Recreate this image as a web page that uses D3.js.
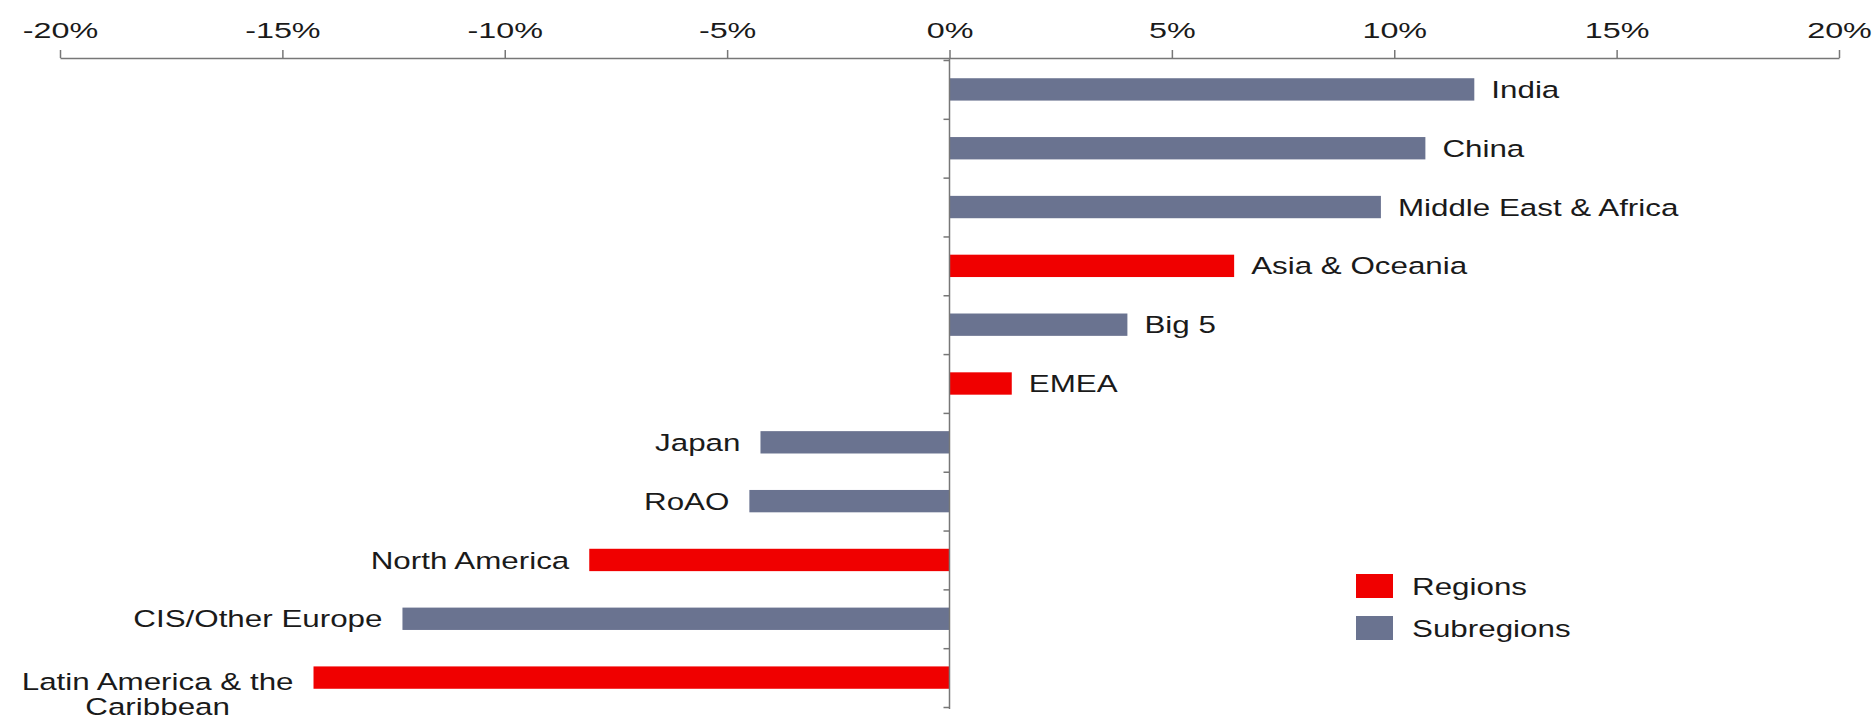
<!DOCTYPE html>
<html>
<head>
<meta charset="utf-8">
<script src="https://cdn.jsdelivr.net/npm/d3@7"></script>
<style>
  body { margin: 0; background: #fff; }
  svg text { font-family: "Liberation Sans", Arial, sans-serif; fill: #1a1a1a; }
</style>
</head>
<body>
<svg id="chart" width="1875" height="721"></svg>
<script>
// growth by region, top to bottom as in the picture
var categories = ["India", "China", "Middle East & Africa", "Asia & Oceania", "Big 5", "EMEA",
                  "Japan", "RoAO", "North America", "CIS/Other Europe", "Latin America & the Caribbean"];
var growth = [11.8, 10.7, 9.7, 6.4, 4.0, 1.4, -4.25, -4.5, -8.1, -12.3, -14.3];
var groups = ["Subregions", "Subregions", "Subregions", "Regions", "Subregions", "Regions",
              "Subregions", "Subregions", "Regions", "Subregions", "Regions"];
var xTicks = [-20, -15, -10, -5, 0, 5, 10, 15, 20];
var legendItems = ["Regions", "Subregions"];

// labels that wrap onto two lines
var wrapped = { "Latin America & the Caribbean": ["Latin America & the", "Caribbean"] };

var colors = { "Regions": "#f00000", "Subregions": "#6a7390" };
// text in the original is pulled wide, tick labels even more
var stretch = 1.28;
var tickStretch = 1.47;

var svg = d3.select("#chart");

var x = d3.scaleLinear().domain([-20, 20]).range([60, 1839]);
var y = d3.scaleBand().domain(categories).range([60, 707]).paddingInner(0.62).paddingOuter(0.31);
var yEdge = d3.scaleLinear().domain([0, categories.length]).range([60, 707]);

// top axis
var xAxis = svg.append("g")
    .attr("transform", "translate(0,58)")
    .call(d3.axisTop(x).tickValues(xTicks).tickSize(8).tickSizeOuter(0).tickPadding(12)
        .tickFormat(function(d){ return d + "%"; }));
xAxis.select(".domain").attr("stroke", "#777").attr("stroke-width", 1.5);
xAxis.selectAll(".tick line").attr("stroke", "#777").attr("stroke-width", 1.5);
xAxis.selectAll(".tick text")
    .style("font-size", "22px")
    .attr("transform", "scale(" + tickStretch + ",1)")
    .attr("fill", "#1a1a1a");

// bars
svg.selectAll("rect.bar")
    .data(categories)
    .enter().append("rect")
    .attr("class", "bar")
    .attr("x", function(d, i){ return x(Math.min(0, growth[i])); })
    .attr("width", function(d, i){ return Math.abs(x(growth[i]) - x(0)); })
    .attr("y", function(d){ return y(d); })
    .attr("height", y.bandwidth())
    .attr("fill", function(d, i){ return colors[groups[i]]; });

// vertical axis at zero, ticks between categories
var yAxis = svg.append("g")
    .attr("transform", "translate(" + x(0) + ",0)")
    .call(d3.axisLeft(yEdge).tickValues(d3.range(0, categories.length + 1)).tickSize(6)
        .tickSizeOuter(0).tickFormat(""));
yAxis.select(".domain").attr("stroke", "#777").attr("stroke-width", 1.5)
    .attr("d", "M0,58V709");
yAxis.selectAll(".tick line").attr("stroke", "#777").attr("stroke-width", 1.5);

// category labels next to the bar ends
var labels = svg.selectAll("g.label")
    .data(categories)
    .enter().append("g")
    .attr("class", "label")
    .attr("transform", function(d, i){
        var v = growth[i];
        var px = v >= 0 ? x(v) + 17 : x(v) - 20;
        return "translate(" + px + "," + (y(d) + y.bandwidth() / 2) + ") scale(" + stretch + ",1)";
    });

labels.each(function(d, i){
    var g = d3.select(this);
    var lines = wrapped[d] || [d];
    var t = g.append("text").style("font-size", "24.5px");
    if (lines.length == 1) {
        t.attr("dy", "0.35em")
            .attr("text-anchor", growth[i] >= 0 ? "start" : "end")
            .text(d);
    } else {
        // two lines centred on each other, sitting against the bar
        var tmp = g.append("text").style("font-size", "24.5px").text(lines[0]);
        var w = tmp.node().getComputedTextLength();
        tmp.remove();
        t.attr("text-anchor", "middle");
        lines.forEach(function(line, k){
            t.append("tspan")
                .attr("x", -w / 2)
                .attr("y", 4 + k * 25)
                .attr("dy", "0.35em")
                .text(line);
        });
    }
});

// legend
var legend = svg.selectAll("g.legend")
    .data(legendItems)
    .enter().append("g")
    .attr("class", "legend")
    .attr("transform", function(d, i){ return "translate(1356," + (574 + i * 42) + ")"; });

legend.append("rect")
    .attr("width", 37)
    .attr("height", 24)
    .attr("fill", function(d){ return colors[d]; });

legend.append("text")
    .attr("transform", "translate(56,12) scale(" + stretch + ",1)")
    .attr("dy", "0.35em")
    .style("font-size", "24.5px")
    .text(function(d){ return d; });
</script>
</body>
</html>
